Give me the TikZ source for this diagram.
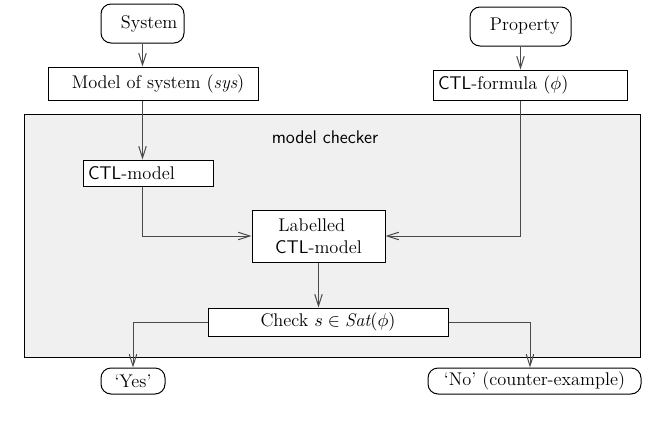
\documentclass[tikz,border=0pt]{standalone}
\usepackage{fontspec}
\usetikzlibrary{arrows.meta}
\definecolor{linegray}{HTML}{4A4A4A}
\definecolor{panelgray}{HTML}{F0F0F0}
\tikzset{
  bx/.style 2 args={draw=black, line width=0.6pt, fill=white, minimum width=#1*0.6pt, minimum height=#2*0.6pt, inner sep=0pt, align=center},
  rbx/.style 2 args={bx={#1}{#2}, rounded corners=6pt},
  lbx/.style 2 args={bx={#1}{#2}, text width=#1*0.6pt-6pt, align=left},
  arr/.style={draw=linegray, line width=0.6pt, -{Straight Barb[length=7pt,width=4.5pt]}},
  ln/.style={draw=linegray, line width=0.6pt}
}
\begin{document}
\begin{tikzpicture}[x=0.6pt,y=-0.6pt, every node/.style={font=\fontsize{11}{13.5}\selectfont}]
\useasboundingbox (0,0) rectangle (652,425);
% panel
\draw[fill=panelgray, draw=black, line width=0.6pt] (24,114) rectangle (640,357);
\node[font=\fontsize{11}{13.5}\selectfont\sffamily] (mc) at (325,137) {model checker};
% nodes
\node[rbx={83}{39}] (sys) at (142.5,23.5) {\hspace{8pt}System};
\node[bx={210}{33}] (model) at (153,83.5) {\hspace{6pt}Model of system $(\mathit{sys})$};
\node[rbx={101}{39}] (prop) at (520.5,26.5) {\hspace{5pt}Property};
\node[lbx={194}{30}] (form) at (530,85) {\textsf{CTL}-formula $(\phi)$};
\node[lbx={130}{26}] (ctl) at (148,173) {\textsf{CTL}-model};
\node[bx={133}{52}, align=left] (lab) at (318.5,236) {\hspace{2pt}Labelled\\\textsf{CTL}-model};
\node[bx={240}{28}] (chk) at (328,322) {Check $s\in \mathit{Sat}(\phi)$};
\node[rbx={64}{26}] (yes) at (133,381) {`Yes'};
\node[rbx={213}{26}] (no) at (534.5,381) {`No' (counter-example)};
% connectors
\draw[arr] (sys.south) -- (sys.south |- model.north);
\draw[arr] (model.south -| sys.south) -- (ctl.north -| sys.south);
\draw[arr] (prop.south) -- (prop.south |- form.north);
\draw[arr] (ctl.south -| sys.south) |- (lab.west);
\draw[arr] (form.south -| prop.south) |- (lab.east);
\draw[arr] (lab.south) -- (lab.south |- chk.north);
\draw[arr] (chk.west) -| (yes.north);
\coordinate (nt) at ([xshift=-4.5*0.6pt]no.north);
\draw[arr] (chk.east) -| (nt);
\end{tikzpicture}
\end{document}
